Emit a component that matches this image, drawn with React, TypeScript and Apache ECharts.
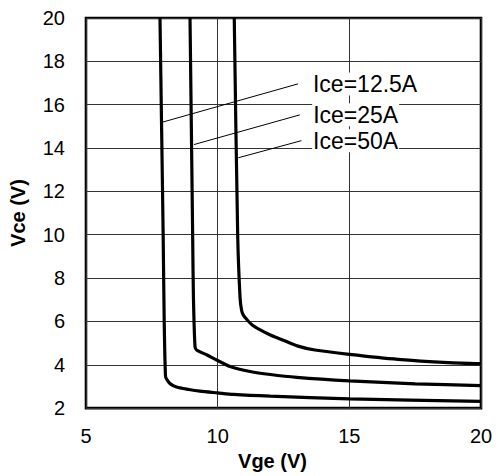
import React, { useEffect, useRef } from "react";
import * as echarts from "echarts";

// Vce vs Vge saturation curves for three collector currents
const vge12 = [7.81, 7.87, 7.93, 7.97, 8.02, 8.08, 8.19, 8.44, 8.9, 9.33, 10.0, 10.6, 12.0, 15.0, 20.0];
const vce12 = [20, 15, 10, 6, 3.46, 3.3, 3.13, 2.97, 2.86, 2.78, 2.7, 2.63, 2.55, 2.43, 2.31];

const vge25 = [8.95, 9.05, 9.08, 9.14, 9.2, 9.6, 9.96, 10.47, 11.23, 12.0, 13.0, 15.0, 17.5, 20.0];
const vce25 = [20, 10, 7.1, 4.83, 4.68, 4.45, 4.22, 3.92, 3.69, 3.55, 3.42, 3.26, 3.12, 3.04];

const vge50 = [10.63, 10.76, 10.85, 10.91, 10.97, 11.1, 11.3, 11.6, 12.0, 12.42, 13.05, 13.69, 15.0, 16.85, 18.75, 20.0];
const vce50 = [20, 10, 7.1, 6.5, 6.3, 6.1, 5.85, 5.62, 5.37, 5.17, 4.86, 4.68, 4.48, 4.25, 4.1, 4.05];

// Leader lines from each curve to its caption
const leaderNames = ["Ice=12.5A", "Ice=25A", "Ice=50A"];
const leaderVge = [
  [7.92, 13.05],
  [9.1, 13.12],
  [10.78, 13.18],
];
const leaderVce = [
  [15.2, 16.96],
  [14.16, 15.53],
  [13.55, 14.34],
];
// gap between each leader's end and its caption, so the captions line up
const leaderGap = [14, 12.3, 10.7];

const xTicks = [5, 10, 15, 20];
const yTicks = [2, 4, 6, 8, 10, 12, 14, 16, 18, 20];

const FONT = "'Liberation Sans', Arial, Helvetica, sans-serif";

const zip = (xs: number[], ys: number[]) => xs.map((x, i) => [x, ys[i]]);

export default function App() {
  const ref = useRef<HTMLDivElement>(null);

  useEffect(() => {
    if (!ref.current) return;
    const chart = echarts.init(ref.current, undefined, { renderer: "svg" });

    const curve = (xs: number[], ys: number[]) => ({
      type: "line",
      data: zip(xs, ys),
      showSymbol: false,
      smooth: 0.25,
      lineStyle: { color: "#000", width: 3.2 },
      z: 5,
    });

    const leaders = leaderNames.map((name, i) => ({
      type: "line",
      showSymbol: false,
      lineStyle: { color: "#000", width: 1 },
      z: 6,
      data: zip(leaderVge[i], leaderVce[i]),
      endLabel: {
        show: true,
        distance: leaderGap[i],
        formatter: name,
        color: "#000",
        fontFamily: FONT,
        fontSize: 23,
        backgroundColor: "#fff",
        padding: [0, 1, 0, 1],
      },
    }));

    chart.setOption({
      animation: false,
      backgroundColor: "#fff",
      grid: {
        left: 86,
        right: 17,
        top: 18,
        bottom: 64,
        show: true,
        borderColor: "#000",
        borderWidth: 2.6,
        backgroundColor: "transparent",
      },
      xAxis: {
        type: "value",
        min: xTicks[0],
        max: xTicks[xTicks.length - 1],
        interval: 5,
        name: "Vge (V)",
        nameLocation: "middle",
        nameGap: 38,
        nameTextStyle: {
          fontFamily: FONT,
          fontSize: 20,
          fontWeight: "bold",
          color: "#000",
          padding: [0, 22, 0, 0],
        },
        axisLine: { show: false },
        axisTick: { show: false },
        axisLabel: { fontFamily: FONT, fontSize: 20, color: "#000", margin: 18 },
        splitLine: { show: true, lineStyle: { color: "#333", width: 1 } },
      },
      yAxis: {
        type: "value",
        min: yTicks[0],
        max: yTicks[yTicks.length - 1],
        interval: 2,
        name: "Vce (V)",
        nameLocation: "middle",
        nameGap: 58,
        nameTextStyle: {
          fontFamily: FONT,
          fontSize: 20,
          fontWeight: "bold",
          color: "#000",
        },
        axisLine: { show: false },
        axisTick: { show: false },
        axisLabel: { fontFamily: FONT, fontSize: 20, color: "#000", margin: 21 },
        splitLine: { show: true, lineStyle: { color: "#333", width: 1 } },
      },
      series: [curve(vge12, vce12), curve(vge25, vce25), curve(vge50, vce50), ...leaders],
    });

    return () => chart.dispose();
  }, []);

  return <div ref={ref} style={{ width: 498, height: 476, position: "absolute", left: 0, top: 0 }} />;
}
